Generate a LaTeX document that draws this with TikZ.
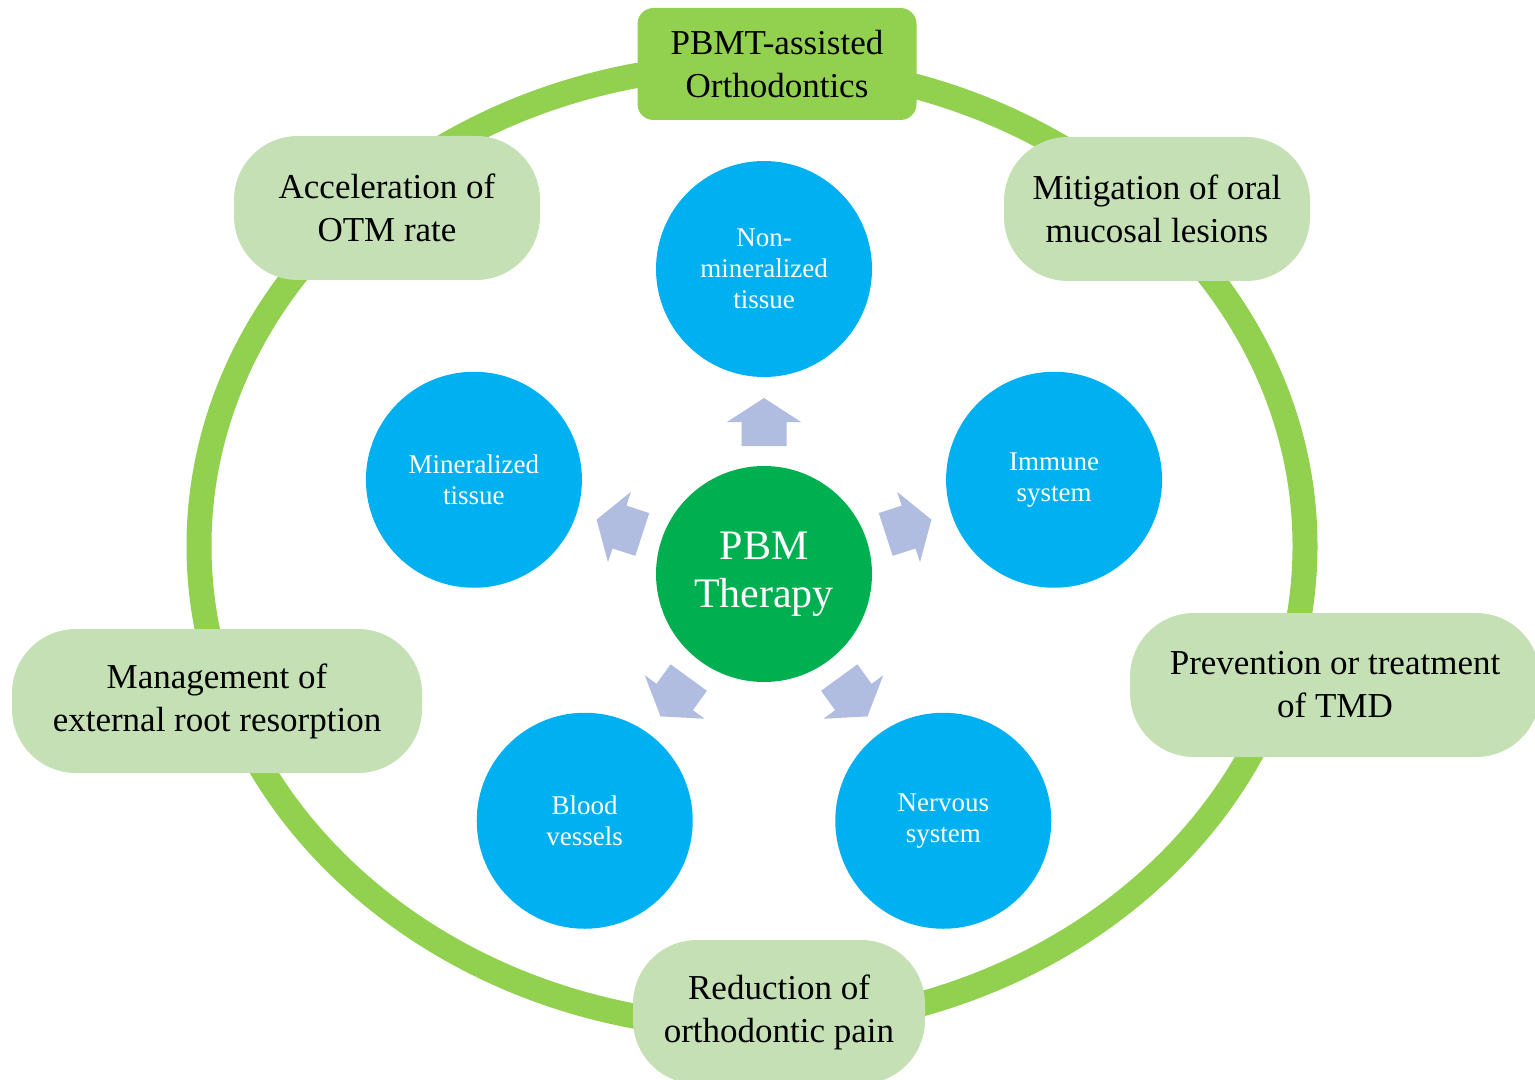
\documentclass[tikz,border=0pt]{standalone}
\usepackage{fontspec}
\setmainfont{Liberation Serif}
\usepackage{tikz}
\tikzset{every picture/.style={line width=0.75pt}}
\usepackage{color}
\usetikzlibrary{calc}
\definecolor{ringgreen}{RGB}{146,208,80}
\definecolor{softgreen}{RGB}{197,224,180}
\definecolor{cyanblue}{RGB}{0,176,240}
\definecolor{pbmgreen}{RGB}{0,176,80}
\definecolor{arrowblue}{RGB}{176,188,224}
\tikzset{
  effectbox/.style={fill=softgreen, rounded corners=32pt, minimum height=72pt, inner sep=0pt, align=center, font=\fontsize{17.5}{21.5}\selectfont},
  targetdisc/.style={circle, fill=cyanblue, minimum size=108pt, inner sep=0pt, align=center, text=white, font=\fontsize{13.5}{15.5}\selectfont},
}

\begin{document}
\begin{tikzpicture}[x=0.5pt,y=0.5pt,yscale=-1]
\useasboundingbox (0,0) rectangle (1535,1080);

%Ellipse [id:ring]
\draw [color=ringgreen, line width=12.5pt] (752,546) ellipse [x radius=553, y radius=481];

% Title Node
\draw (777,64) node [fill=ringgreen, rounded corners=8pt, minimum width=139.5pt, minimum height=56pt, inner sep=0pt, align=center, font=\fontsize{17.5}{21.5}\selectfont] (orth) {PBMT-assisted\\Orthodontics};

% Effect Nodes
\draw (387,208) node [effectbox, minimum width=153pt] (otm) {Acceleration of\\OTM rate};
\draw (1157,209) node [effectbox, minimum width=153pt] (oral) {Mitigation of oral\\mucosal lesions};
\draw (217,701) node [effectbox, minimum width=205pt] (root) {Management of\\external root resorption};
\draw (1335,685) node [effectbox, minimum width=205pt] (tmd) {Prevention or treatment\\of TMD};
\draw (779,1012) node [effectbox, minimum width=146pt] (pain) {Reduction of\\orthodontic pain};

% Centre Node
\draw (764,574) node [circle, fill=pbmgreen, minimum size=108pt, inner sep=0pt, align=center, text=white, font=\fontsize{21}{24}\selectfont] (pbm) {PBM\\Therapy};

% Target Nodes
\draw ($(pbm)+(-90:305)$) node [targetdisc] (soft) {Non-\\mineralized\\tissue};
\draw ($(pbm)+(198:305)$) node [targetdisc] (hard) {Mineralized\\tissue};
\draw ($(pbm)+(-18:305)$) node [targetdisc] (immune) {Immune\\system};
\draw ($(pbm)+(126:305)$) node [targetdisc] (vessel) {Blood\\vessels};
\draw ($(pbm)+(54:305)$) node [targetdisc] (nerve) {Nervous\\system};

% Block Arrows
\foreach \a in {-90,-18,54,126,198}
  \fill [arrowblue] ($(pbm)+(\a:128)+(\a+90:22.5)$) -- ($(pbm)+(\a:152)+(\a+90:22.5)$) -- ($(pbm)+(\a:152)+(\a+90:37)$) -- ($(pbm)+(\a:176)$) -- ($(pbm)+(\a:152)+(\a-90:37)$) -- ($(pbm)+(\a:152)+(\a-90:22.5)$) -- ($(pbm)+(\a:128)+(\a-90:22.5)$) -- cycle;
\end{tikzpicture}
\end{document}
